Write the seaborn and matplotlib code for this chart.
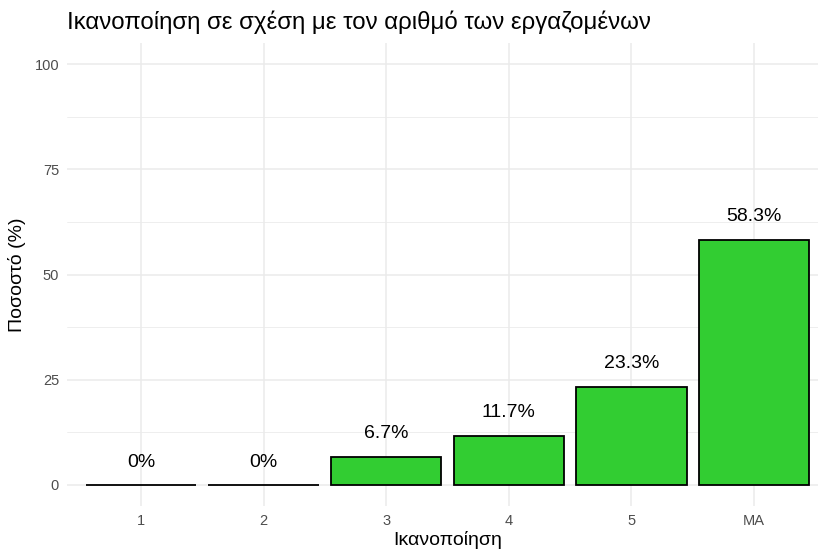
import matplotlib
matplotlib.use("Agg")
import matplotlib.pyplot as plt
import seaborn as sns
import pandas as pd
from matplotlib.ticker import MultipleLocator

# Satisfaction level categories and share of respondents (%)
categories = ["1", "2", "3", "4", "5", "ΜΑ"]
percentages = [0.0, 0.0, 6.7, 11.7, 23.3, 58.3]
value_labels = ["0%", "0%", "6.7%", "11.7%", "23.3%", "58.3%"]
y_ticks = [0, 25, 50, 75, 100]

df = pd.DataFrame({"Ικανοποίηση": categories, "Ποσοστό": percentages})

sns.set_theme(style="white")
plt.rcParams["font.family"] = ["Liberation Sans", "DejaVu Sans"]

fig = plt.figure(figsize=(8.18, 5.5), dpi=100)
ax = fig.add_axes([0.0824, 0.08, 0.9293, 0.8418])

sns.barplot(data=df, x="Ικανοποίηση", y="Ποσοστό", order=categories,
            color="#32CD32", edgecolor="black", linewidth=1.3,
            width=0.9, saturation=1, ax=ax, zorder=3)

for i, (v, lab) in enumerate(zip(percentages, value_labels)):
    ax.annotate(lab, xy=(i, v), xytext=(0, 16.5), textcoords="offset points",
                ha="center", va="center", fontsize=14, color="black")

ax.set_xlim(-0.6, len(categories) - 0.4)
ax.set_ylim(-5, 105)
ax.set_yticks(y_ticks)
ax.yaxis.set_minor_locator(MultipleLocator(12.5))

ax.grid(True, which="major", axis="both", color="#EBEBEB", linewidth=1.1, zorder=0)
ax.grid(True, which="minor", axis="y", color="#EBEBEB", linewidth=0.6, zorder=0)
ax.set_axisbelow(True)
for s in ax.spines.values():
    s.set_visible(False)
ax.tick_params(axis="both", which="both", length=0, labelsize=10.5,
               labelcolor="#4D4D4D", pad=6)

ax.set_xlabel("Ικανοποίηση", fontsize=14, color="black", labelpad=2)
ax.set_ylabel("Ποσοστό (%)", fontsize=14, color="black", labelpad=6)
fig.text(0.0824, 0.96, "Ικανοποίηση σε σχέση με τον αριθμό των εργαζομένων",
         fontsize=17.3, ha="left", va="center", color="black")

fig.savefig("out.png", dpi=100, facecolor="white")
